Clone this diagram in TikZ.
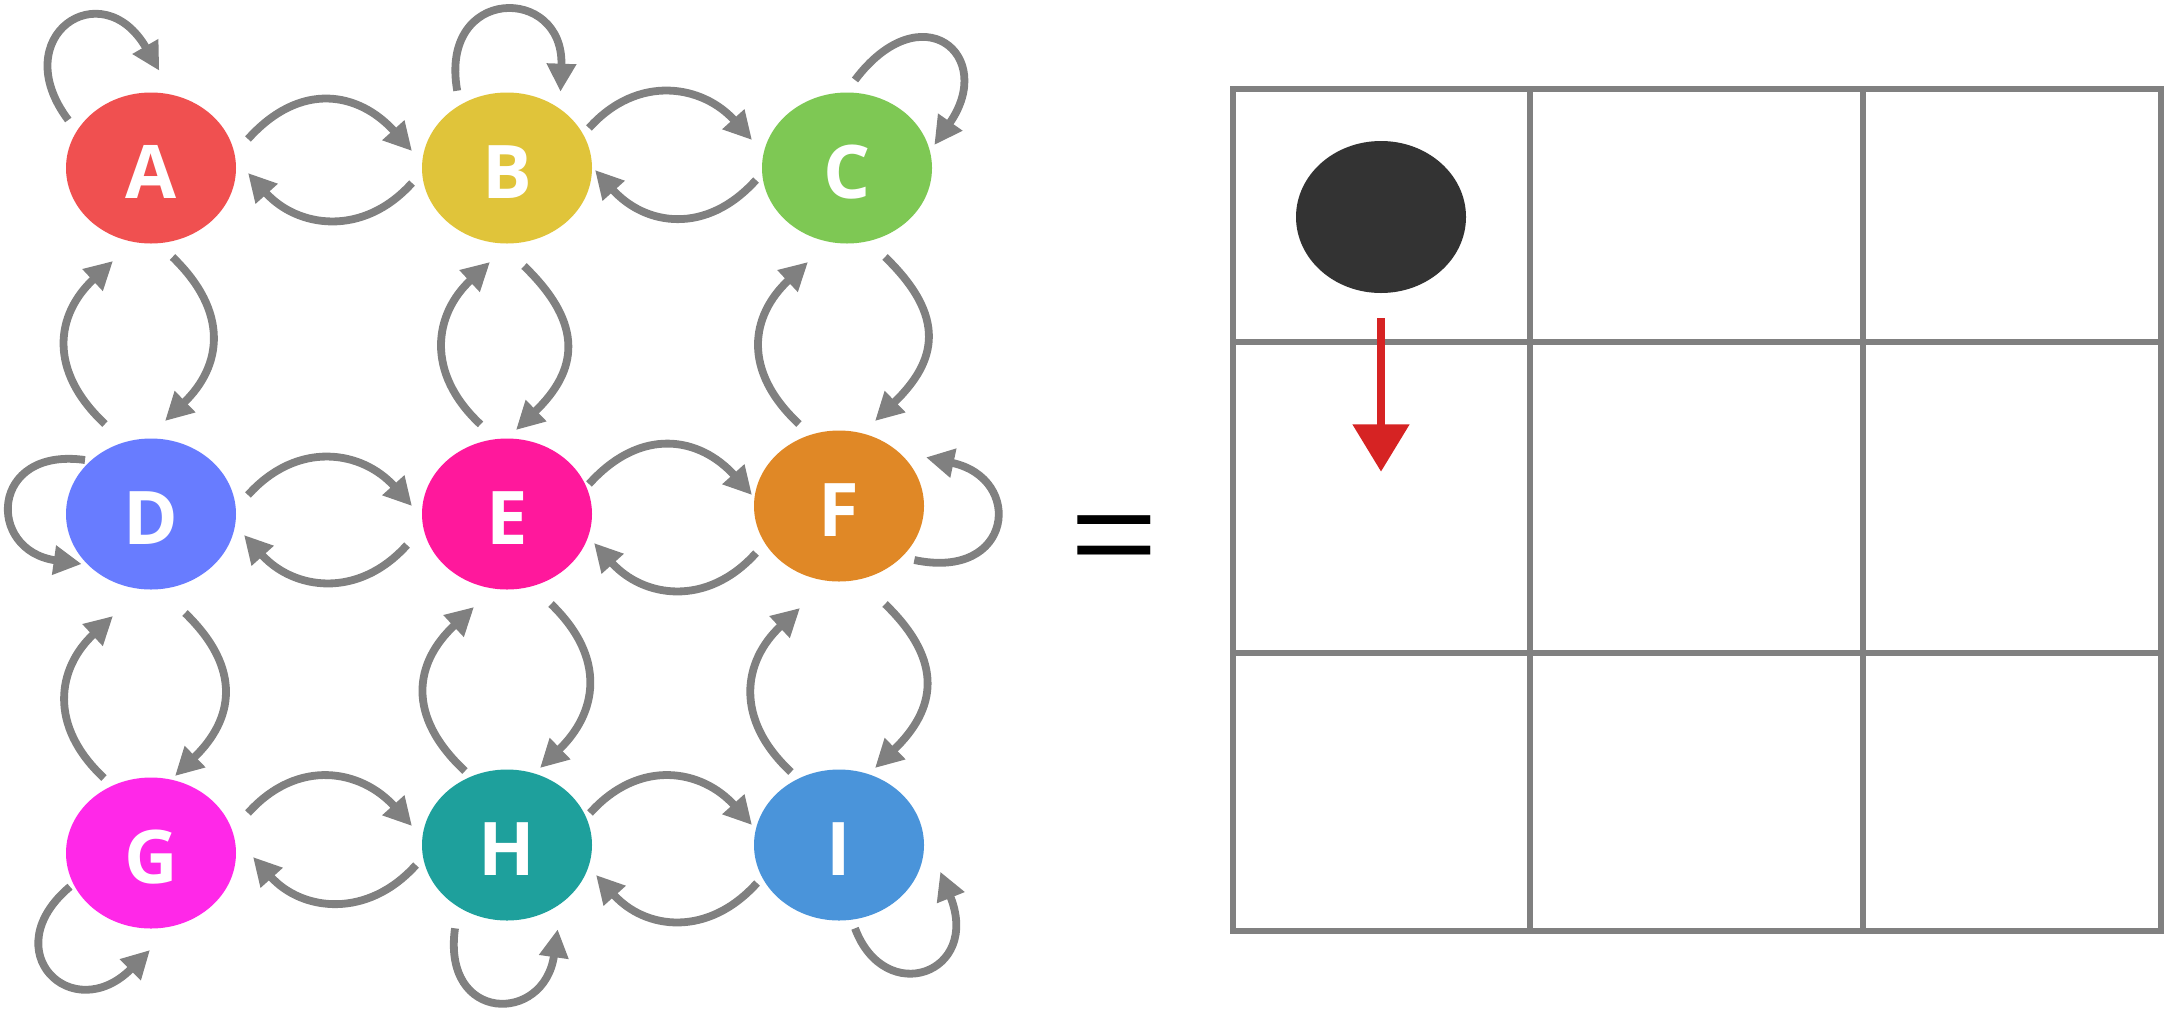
\documentclass[tikz,border=0pt]{standalone}
\usepackage{fontspec}
\usepackage{graphicx}
\usetikzlibrary{arrows.meta,shapes.geometric}
\newfontfamily\lblfont{Open Sans}
\newfontfamily\eqfont{Liberation Sans}
\definecolor{cA}{HTML}{F05050}
\definecolor{cB}{HTML}{E0C43A}
\definecolor{cC}{HTML}{7EC854}
\definecolor{cD}{HTML}{687CFF}
\definecolor{cE}{HTML}{FF189C}
\definecolor{cF}{HTML}{E08826}
\definecolor{cG}{HTML}{FF28E8}
\definecolor{cH}{HTML}{1EA09C}
\definecolor{cI}{HTML}{4A94DA}
\definecolor{edgegray}{HTML}{808080}
\definecolor{ballgray}{HTML}{333333}
\definecolor{arrowred}{HTML}{D62323}
\begin{document}
\begin{tikzpicture}[x=0.5pt,y=0.5pt,
  statenode/.style={ellipse, fill=#1, minimum width=85pt, minimum height=75.5pt,
    inner sep=0pt, outer sep=0pt, text=white, text height=30.5pt, text depth=0pt,
    font=\lblfont\bfseries\fontsize{37}{40}\selectfont},
  conn/.style={draw=edgegray, line width=3.9pt, -{Triangle[length=14pt,width=14pt]}},
  gridline/.style={draw=edgegray, line width=2.8pt}]
\path[use as bounding box, fill=white] (0,0) rectangle (2166,-1013);

% states
\node[statenode=cA] (A) at (151,-168) {A};
\node[statenode=cB] (B) at (507,-168) {B};
\node[statenode=cC] (C) at (847,-168) {C};
\node[statenode=cD] (D) at (151,-514) {D};
\node[statenode=cE] (E) at (507,-514) {E};
\node[statenode=cF] (F) at (839,-506) {F};
\node[statenode=cG] (G) at (151,-853) {G};
\node[statenode=cH] (H) at (507,-845) {H};
\node[statenode=cI] (I) at (839,-845) {I};

% horizontal, left to right (upper arcs)
\draw[conn] ([shift={(97,29)}]A.center) .. controls +(48:79) and +(132:79) .. ([shift={(-95,17)}]B.center);
\draw[conn] ([shift={(82,40)}]B.center) .. controls +(48:73.6) and +(132:73.6) .. ([shift={(-95,28)}]C.center);
\draw[conn] ([shift={(97,19)}]D.center) .. controls +(48:74.5) and +(132:74.5) .. ([shift={(-95,8)}]E.center);
\draw[conn] ([shift={(82,30)}]E.center) .. controls +(48:78) and +(132:78) .. ([shift={(-87,11)}]F.center);
\draw[conn] ([shift={(97,40)}]G.center) .. controls +(48:75.3) and +(132:75.3) .. ([shift={(-95,19)}]H.center);
\draw[conn] ([shift={(83,32)}]H.center) .. controls +(48:74.5) and +(132:74.5) .. ([shift={(-87,20)}]I.center);

% horizontal, right to left (lower arcs)
\draw[conn] ([shift={(-95,-15)}]B.center) .. controls +(228:73.6) and +(312:73.6) .. ([shift={(97,-5)}]A.center);
\draw[conn] ([shift={(-91,-12)}]C.center) .. controls +(228:74.8) and +(312:74.8) .. ([shift={(88,-2)}]B.center);
\draw[conn] ([shift={(-100,-31)}]E.center) .. controls +(228:73.6) and +(312:73.6) .. ([shift={(93,-21)}]D.center);
\draw[conn] ([shift={(-83,-47)}]F.center) .. controls +(228:73.6) and +(312:73.6) .. ([shift={(87,-29)}]E.center);
\draw[conn] ([shift={(-91,-20)}]H.center) .. controls +(228:73) and +(312:73) .. ([shift={(102,-4)}]G.center);
\draw[conn] ([shift={(-82,-38)}]I.center) .. controls +(228:73.6) and +(312:73.6) .. ([shift={(89,-30)}]H.center);

% vertical, bottom to top (left arcs)
\draw[conn] ([shift={(-46,90)}]D.center) .. controls +(137:78.5) and +(223:78.5) .. ([shift={(-38,-93)}]A.center);
\draw[conn] ([shift={(-47,75)}]G.center) .. controls +(137:76.6) and +(223:76.6) .. ([shift={(-38,-102)}]D.center);
\draw[conn] ([shift={(-26.5,89.6)}]E.center) .. controls +(137:76.3) and +(223:76.3) .. ([shift={(-17,-94)}]B.center);
\draw[conn] ([shift={(-42,74)}]H.center) .. controls +(137:81.4) and +(223:81.4) .. ([shift={(-33,-93)}]E.center);
\draw[conn] ([shift={(-40,82)}]F.center) .. controls +(137:78.6) and +(223:78.6) .. ([shift={(-39,-94)}]C.center);
\draw[conn] ([shift={(-48,73)}]I.center) .. controls +(137:78.1) and +(223:78.1) .. ([shift={(-39,-102)}]F.center);

% vertical, top to bottom (right arcs)
\draw[conn] ([shift={(21.5,-89)}]A.center) .. controls +(316:79.3) and +(44:79.3) .. ([shift={(14,93)}]D.center);
\draw[conn] ([shift={(34,-99)}]D.center) .. controls +(316:80.9) and +(44:80.9) .. ([shift={(24,77)}]G.center);
\draw[conn] ([shift={(17,-98)}]B.center) .. controls +(316:85.3) and +(44:85.3) .. ([shift={(9,84)}]E.center);
\draw[conn] ([shift={(44,-90)}]E.center) .. controls +(316:78.7) and +(44:78.7) .. ([shift={(33,77)}]H.center);
\draw[conn] ([shift={(38,-89)}]C.center) .. controls +(316:86.3) and +(44:86.3) .. ([shift={(36,85)}]F.center);
\draw[conn] ([shift={(46,-98)}]F.center) .. controls +(316:83.9) and +(44:83.9) .. ([shift={(36,77)}]I.center);

% self loops
\draw[conn] ([shift={(-82.7,48)}]A.center) .. controls +(127:105) and +(120:115) .. ([shift={(8.3,97.3)}]A.center);
\draw[conn] ([shift={(-49.8,77.3)}]B.center) .. controls +(100:107) and +(88:107) .. ([shift={(53.5,76.3)}]B.center);
\draw[conn] ([shift={(8,88)}]C.center) .. controls +(53:110) and +(55:110) .. ([shift={(87.3,23)}]C.center);
\draw[conn] ([shift={(-66,54)}]D.center) .. controls +(172:96.5) and +(172:96.5) .. ([shift={(-69.3,-50)}]D.center);
\draw[conn] ([shift={(75.3,-54)}]F.center) .. controls +(-12:101) and +(-12:101) .. ([shift={(87,48.7)}]F.center);
\draw[conn] ([shift={(-81,-33.7)}]G.center) .. controls +(220:100) and +(225:110) .. ([shift={(-1,-97)}]G.center);
\draw[conn] ([shift={(-52,-83.3)}]H.center) .. controls +(262:96) and +(262:96) .. ([shift={(50.7,-84.3)}]H.center);
\draw[conn] ([shift={(16,-83.3)}]I.center) .. controls +(290.5:85) and +(292:110) .. ([shift={(101.3,-26.7)}]I.center);

% equals sign
\node[font=\eqfont\fontsize{61}{61}\selectfont, inner sep=0pt] (eq) at (1114,-545.5) {\scalebox{1.23}[1]{=}};

% grid
\draw[gridline] (1233,-89) rectangle (2161,-931);
\draw[gridline] (1530,-89) -- (1530,-931);
\draw[gridline] (1863,-89) -- (1863,-931);
\draw[gridline] (1233,-342) -- (2161,-342);
\draw[gridline] (1233,-653) -- (2161,-653);

% ball and move arrow
\node[ellipse, fill=ballgray, minimum width=85pt, minimum height=76pt, inner sep=0pt, outer sep=0pt] (ball) at (1381,-217) {};
\coordinate (target) at (1381,-471.7);
\draw[draw=arrowred, line width=4.2pt, -{Triangle[length=23.7pt,width=27.5pt]}, shorten <=12.6pt] (ball.south) -- (target);
\end{tikzpicture}
\end{document}
